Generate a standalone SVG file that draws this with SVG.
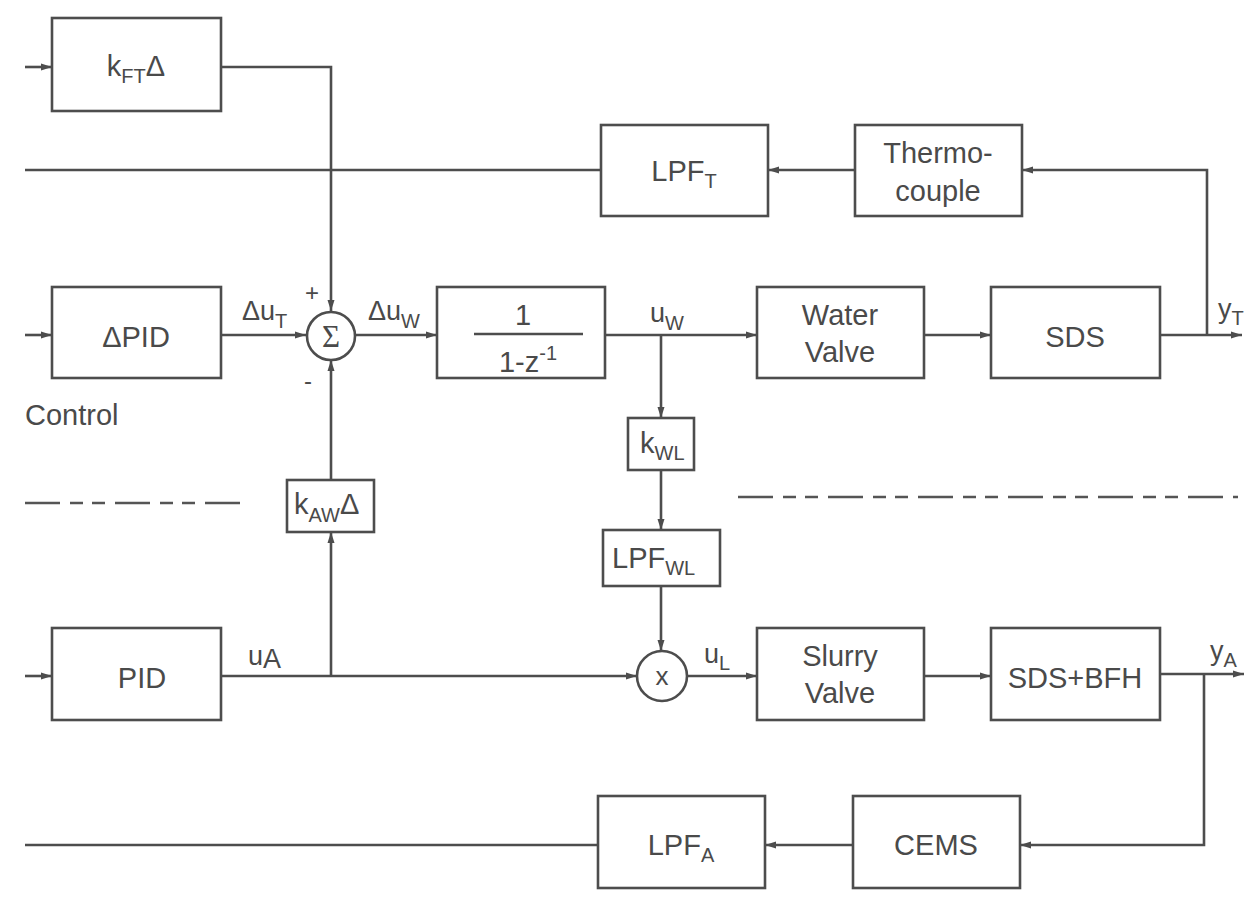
<svg xmlns="http://www.w3.org/2000/svg" width="1250" height="900" viewBox="0 0 1250 900">
<defs>
<style>
.b{fill:none;stroke:#4d4d4d;stroke-width:2.6}
.l{fill:none;stroke:#4d4d4d;stroke-width:2.6}
.a{marker-end:url(#ah)}
text{font-family:"Liberation Sans",Arial,sans-serif;fill:#4a4a4a;font-size:29px}
.c{text-anchor:middle}
.s{font-size:20px}
.d{fill:none;stroke:#555;stroke-width:2.6;stroke-dasharray:35 10 13 9 13 10}
</style>
<marker id="ah" markerUnits="userSpaceOnUse" markerWidth="12" markerHeight="10" refX="11" refY="5" orient="auto">
<path d="M0,1.5 L11,5 L0,8.5 Z" fill="#4d4d4d"/>
</marker>
</defs>
<rect width="1250" height="900" fill="#fff"/>

<g id="connectors">
<line class="l a" x1="25" y1="67" x2="52" y2="67"/>
<polyline class="l a" points="221,67 331,67 331,311"/>
<line class="l" x1="601" y1="170" x2="25" y2="170"/>
<line class="l a" x1="855" y1="170" x2="768" y2="170"/>
<polyline class="l a" points="1207,335 1207,170 1022,170"/>
<line class="l a" x1="25" y1="335" x2="52" y2="335"/>
<line class="l a" x1="221" y1="335" x2="306" y2="335"/>
<line class="l a" x1="356" y1="335" x2="437" y2="335"/>
<line class="l a" x1="605" y1="335" x2="757" y2="335"/>
<line class="l a" x1="661" y1="335" x2="661" y2="418"/>
<line class="l a" x1="924" y1="335" x2="991" y2="335"/>
<line class="l a" x1="1160" y1="335" x2="1242" y2="335"/>
<line class="l a" x1="661" y1="470" x2="661" y2="530"/>
<line class="l a" x1="661" y1="586" x2="661" y2="651"/>
<line class="l a" x1="331" y1="480" x2="331" y2="360"/>
<line class="l a" x1="331" y1="676" x2="331" y2="532"/>
<line class="l a" x1="25" y1="676" x2="52" y2="676"/>
<line class="l a" x1="221" y1="676" x2="637" y2="676"/>
<line class="l a" x1="687" y1="676" x2="757" y2="676"/>
<line class="l a" x1="924" y1="676" x2="991" y2="676"/>
<line class="l a" x1="1160" y1="674" x2="1244" y2="674"/>
<polyline class="l a" points="1204,674 1204,845 1020,845"/>
<line class="l a" x1="853" y1="845" x2="765" y2="845"/>
<line class="l" x1="598" y1="845" x2="25" y2="845"/>
<line class="d" x1="25" y1="503" x2="250" y2="503" stroke-dasharray="22 8 15 8 14 10 35 10 13 8 14 10 35 10 11 0"/>
<line class="d" x1="738" y1="497" x2="1238" y2="497"/>
</g>

<g id="kFT"><rect class="b" x="52" y="18" width="169" height="93"/><text x="136" y="76" class="c">k<tspan class="s" dy="7">FT</tspan><tspan dy="-7">Δ</tspan></text></g>
<g id="LPFT"><rect class="b" x="601" y="125" width="167" height="91"/><text x="684" y="181" class="c">LPF<tspan class="s" dy="7">T</tspan></text></g>
<g id="thermo"><rect class="b" x="855" y="125" width="167" height="91"/><text x="938" y="163" class="c">Thermo-</text><text x="938" y="201" class="c">couple</text></g>
<g id="dPID"><rect class="b" x="52" y="287" width="169" height="91"/><text x="136" y="347" class="c">ΔPID</text></g>
<g id="sum"><circle class="b" cx="331" cy="336" r="24"/><text x="331" y="347" class="c" style="font-family:'Liberation Serif',serif;font-size:31px">Σ</text>
<text x="312" y="301" class="c" style="font-size:24px">+</text><text x="308" y="389" class="c" style="font-size:24px">-</text></g>
<g id="integ"><rect class="b" x="437" y="287" width="168" height="91"/><text x="523" y="325" class="c">1</text><line class="l" x1="474" y1="334" x2="583" y2="334"/><text x="528" y="372" class="c">1-z<tspan class="s" dy="-12">-1</tspan></text></g>
<g id="water"><rect class="b" x="757" y="287" width="167" height="91"/><text x="840" y="325" class="c">Water</text><text x="840" y="362" class="c">Valve</text></g>
<g id="sds"><rect class="b" x="991" y="287" width="169" height="91"/><text x="1075" y="347" class="c">SDS</text></g>
<g id="kWL"><rect class="b" x="628" y="418" width="66" height="52"/><text x="640" y="453">k<tspan class="s" dy="7">WL</tspan></text></g>
<g id="LPFWL"><rect class="b" x="603" y="530" width="117" height="56"/><text x="612" y="568">LPF<tspan class="s" dy="7">WL</tspan></text></g>
<g id="kAW"><rect class="b" x="287" y="480" width="87" height="52"/><text x="294" y="514">k<tspan class="s" dy="8">AW</tspan><tspan dy="-8">Δ</tspan></text></g>
<g id="mult"><circle class="b" cx="662" cy="676" r="25"/><text x="662" y="685" class="c" style="font-size:26px">x</text></g>
<g id="PID"><rect class="b" x="52" y="628" width="169" height="92"/><text x="142" y="688" class="c">PID</text></g>
<g id="slurry"><rect class="b" x="757" y="628" width="167" height="92"/><text x="840" y="666" class="c">Slurry</text><text x="840" y="703" class="c">Valve</text></g>
<g id="sdsbfh"><rect class="b" x="991" y="628" width="169" height="92"/><text x="1075" y="688" class="c">SDS+BFH</text></g>
<g id="CEMS"><rect class="b" x="853" y="796" width="167" height="92"/><text x="936" y="855" class="c">CEMS</text></g>
<g id="LPFA"><rect class="b" x="598" y="796" width="167" height="92"/><text x="681" y="855" class="c">LPF<tspan class="s" dy="7">A</tspan></text></g>

<g id="labels">
<text x="242" y="320" style="font-size:27px">Δu<tspan class="s" dy="8">T</tspan></text>
<text x="368" y="320" style="font-size:27px">Δu<tspan class="s" dy="8">W</tspan></text>
<text x="650" y="322" style="font-size:27px">u<tspan class="s" dy="8">W</tspan></text>
<text x="248" y="665" style="font-size:27px">u<tspan dy="3">A</tspan></text>
<text x="704" y="663" style="font-size:27px">u<tspan class="s" dy="7">L</tspan></text>
<text x="1218" y="318" style="font-size:27px">y<tspan class="s" dy="7">T</tspan></text>
<text x="1210" y="660" style="font-size:27px">y<tspan class="s" dy="7">A</tspan></text>
<text x="25" y="425">Control</text>
</g>
</svg>
